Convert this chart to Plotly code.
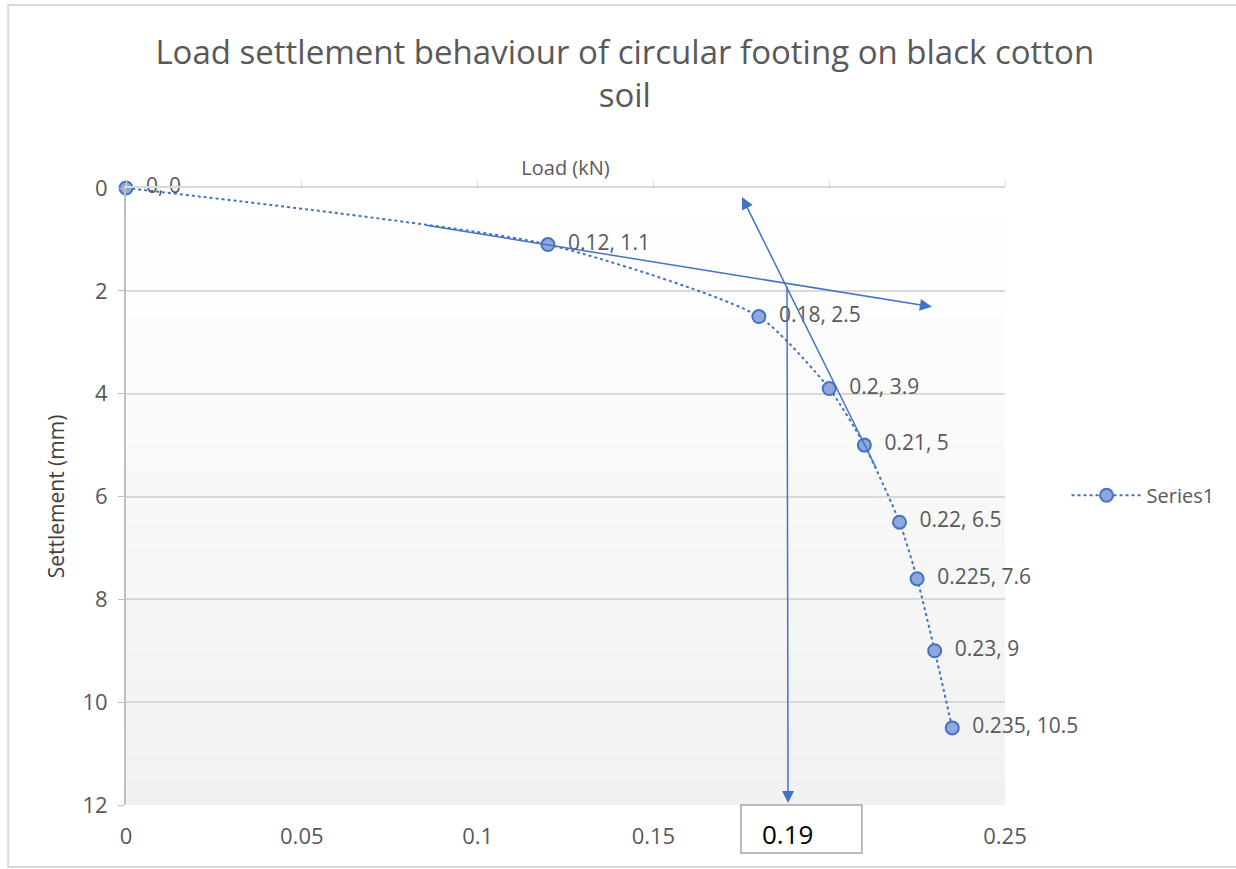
import plotly.graph_objects as go

# Load-settlement readings
load_kn = [0, 0.12, 0.18, 0.2, 0.21, 0.22, 0.225, 0.23, 0.235]
settlement_mm = [0, 1.1, 2.5, 3.9, 5, 6.5, 7.6, 9, 10.5]
x_ticks = [0, 0.05, 0.1, 0.15, 0.2, 0.25]
y_ticks = [0, 2, 4, 6, 8, 10, 12]

# Tangent construction lines (tail -> head), in load / settlement units
initial_tangent = [(0.085, 0.72), (0.2292, 2.31)]
final_tangent = [(0.2136, 5.48), (0.1752, 0.175)]
drop_line = [(0.188, 1.89), (0.1883, 11.96)]
ultimate_load_label = "0.19"

BLUE = "#4472c4"
GREY_TXT = "#595959"
FONT = "Open Sans"

labels = ["  %g, %g" % (x, y) for x, y in zip(load_kn, settlement_mm)]

fig = go.Figure()
fig.add_trace(go.Scatter(
    x=load_kn, y=settlement_mm, mode="lines+markers+text", name="Series1",
    line=dict(color=BLUE, width=2, dash="dot", shape="spline", smoothing=0.6),
    marker=dict(size=13, color="rgb(143,168,220)", line=dict(color=BLUE, width=2)),
    text=labels, textposition="middle right",
    textfont=dict(family=FONT, size=21, color=GREY_TXT),
    cliponaxis=False,
))
# invisible trace carrying the bottom tick labels
fig.add_trace(go.Scatter(x=[0, 0.25], y=[0, 0], xaxis="x2", mode="markers",
                         marker=dict(opacity=0), showlegend=False, hoverinfo="skip"))

# soft vertical gradient behind the plot area
n_bands = 24
shapes = []
for i in range(n_bands):
    t = i / (n_bands - 1)
    c = int(round(255 - 14 * t))
    shapes.append(dict(type="rect", xref="x domain", yref="y domain",
                       x0=0, x1=1, y0=1 - (i + 1) / n_bands, y1=1 - i / n_bands,
                       fillcolor=f"rgb({c},{c},{c})", line=dict(width=0), layer="below"))
# chart border
shapes.append(dict(type="rect", xref="paper", yref="paper", x0=-0.134, x1=1.27,
                   y0=-0.1005, y1=1.2966, line=dict(color="#d9d9d9", width=2),
                   fillcolor="rgba(0,0,0,0)", layer="below"))
# box around the ultimate-load reading (covers the 0.2 tick label)
shapes.append(dict(type="rect", xref="x", yref="paper", x0=0.1749, x1=0.2093,
                   y0=-0.0778, y1=0.0, line=dict(color="#a6a6a6", width=1.5),
                   fillcolor="white", layer="above"))

annotations = []
for (tx, ty), (hx, hy) in (initial_tangent, final_tangent, drop_line):
    annotations.append(dict(x=hx, y=hy, ax=tx, ay=ty, xref="x", yref="y",
                            axref="x", ayref="y", showarrow=True, arrowhead=2,
                            arrowsize=1.6, arrowwidth=1.5, arrowcolor=BLUE, text=""))
annotations.append(dict(x=0.188, y=-0.047, xref="x", yref="paper", yanchor="middle",
                        text=ultimate_load_label, showarrow=False,
                        font=dict(family=FONT, size=26, color="black")))
# the box crops the lower edge of its text
annotations.append(dict(x=0.192, y=-0.068, xref="x", yref="paper", yanchor="middle",
                        text="", showarrow=False, bgcolor="white", borderpad=0,
                        width=110, height=4))

fig.update_layout(
    width=1236, height=869,
    margin=dict(l=126, r=231, t=188, b=64),
    paper_bgcolor="white", plot_bgcolor="rgba(0,0,0,0)",
    title=dict(text="Load settlement behaviour of circular footing on black cotton<br>soil",
               x=0.5055, xanchor="center", y=0.926, yanchor="top",
               font=dict(family=FONT, size=33, color=GREY_TXT)),
    showlegend=True,
    legend=dict(x=1.07, y=0.502, xanchor="left", yanchor="middle", itemwidth=70,
                font=dict(family=FONT, size=20, color=GREY_TXT), bgcolor="rgba(0,0,0,0)"),
    xaxis=dict(range=[0, 0.25], side="top", tickvals=x_ticks, showticklabels=False,
               ticks="outside", ticklen=5, tickcolor="#d9d9d9", showline=True,
               linecolor="#d9d9d9", linewidth=2, showgrid=False, zeroline=False,
               title=dict(text="Load (kN)", standoff=0,
                          font=dict(family=FONT, size=20, color=GREY_TXT))),
    xaxis2=dict(range=[0, 0.25], overlaying="x", side="bottom", tickvals=x_ticks,
                ticktext=[("%g" % v) for v in x_ticks], showline=False, showgrid=False,
                zeroline=False, ticks="", ticklabelstandoff=16,
                tickfont=dict(family=FONT, size=22, color=GREY_TXT)),
    yaxis=dict(range=[12, 0], tickvals=y_ticks, showgrid=True, gridcolor="#d9d9d9",
               gridwidth=2, showline=True, linecolor="#bfbfbf", linewidth=2,
               ticks="outside", ticklen=6, tickcolor="#bfbfbf", zeroline=False,
               ticklabelstandoff=6,
               tickfont=dict(family=FONT, size=22, color=GREY_TXT)),
    annotations=annotations, shapes=shapes,
)
fig.update_yaxes(title=dict(text="Settlement (mm)", standoff=12,
                            font=dict(family=FONT, size=21, color="#404040")))

fig.write_html("out.html")
